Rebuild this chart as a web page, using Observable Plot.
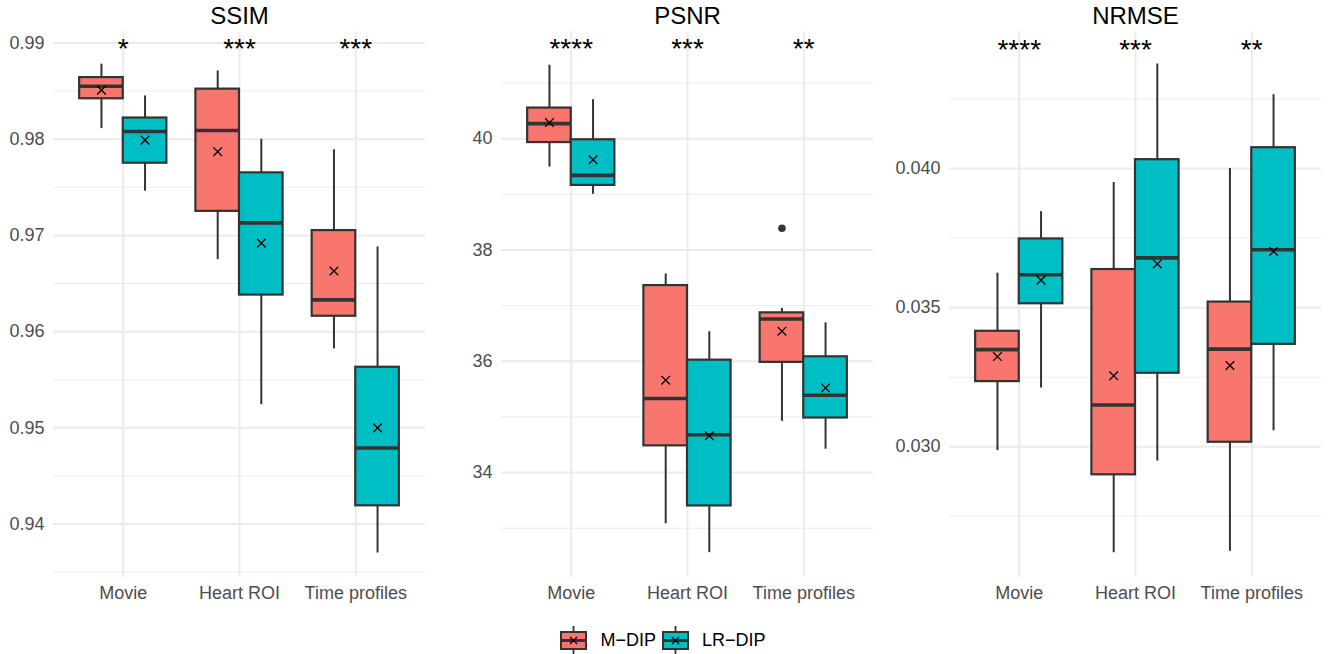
<!DOCTYPE html>
<html><head><meta charset="utf-8">
<script src="https://cdn.jsdelivr.net/npm/d3@7"></script>
<script src="https://cdn.jsdelivr.net/npm/@observablehq/plot@0.6"></script>
<style>
body{margin:0;background:#fff;font-family:"Liberation Sans",Arial,Helvetica,sans-serif;}
#wrap{position:relative;width:1332px;height:654px;overflow:hidden;}
.panel{position:absolute;top:0;}
#legend{position:absolute;left:0;top:626px;width:1332px;height:28px;display:flex;justify-content:center;align-items:center;font-size:18px;color:#000;}
.item{display:flex;align-items:center;margin:0 6px 0 0;}
.item svg{margin-right:13px;}
</style></head><body>
<div id="wrap"></div>
<script>
// ---------- data ----------
const categories = ["Movie", "Heart ROI", "Time profiles"];
const methods = ["M\u2212DIP", "LR\u2212DIP"];
const colors = ["#F8766D", "#00BFC4"];
const metrics = ["SSIM", "PSNR", "NRMSE"];

// order: Movie M, Movie LR, Heart M, Heart LR, Time M, Time LR
const ssimLow  = [0.9811, 0.9746, 0.9675, 0.9524, 0.9582, 0.9370];
const ssimQ1   = [0.9842, 0.9775, 0.9725, 0.9638, 0.9616, 0.9419];
const ssimMed  = [0.9855, 0.9808, 0.9809, 0.9713, 0.9633, 0.9479];
const ssimQ3   = [0.9864, 0.9822, 0.9852, 0.9765, 0.9705, 0.9563];
const ssimHigh = [0.9878, 0.9845, 0.9871, 0.9800, 0.9789, 0.9688];
const ssimMean = [0.9851, 0.9799, 0.9787, 0.9692, 0.9663, 0.9500];

const psnrLow  = [39.49, 39.00, 33.08, 32.56, 34.92, 34.42];
const psnrQ1   = [39.93, 39.16, 34.48, 33.40, 35.98, 34.98];
const psnrMed  = [40.27, 39.34, 35.33, 34.68, 36.76, 35.39];
const psnrQ3   = [40.55, 39.98, 37.36, 36.02, 36.87, 36.08];
const psnrHigh = [41.32, 40.70, 37.57, 36.53, 36.95, 36.69];
const psnrMean = [40.29, 39.62, 35.66, 34.66, 36.54, 35.52];

const nrmseLow  = [0.02986, 0.03211, 0.02619, 0.02949, 0.02624, 0.03057];
const nrmseQ1   = [0.03234, 0.03514, 0.02899, 0.03264, 0.03016, 0.03368];
const nrmseMed  = [0.03349, 0.03618, 0.03150, 0.03679, 0.03351, 0.03708];
const nrmseQ3   = [0.03415, 0.03747, 0.03637, 0.04032, 0.03520, 0.04075];
const nrmseHigh = [0.03624, 0.03845, 0.03950, 0.04376, 0.04000, 0.04265];
const nrmseMean = [0.03324, 0.03599, 0.03255, 0.03657, 0.03292, 0.03702];

// outliers
const psnrOutlierCat = ["Time profiles"];
const psnrOutlierMethod = ["M\u2212DIP"];
const psnrOutlierValue = [38.39];

// significance labels
const ssimSig  = ["*", "***", "***"];
const psnrSig  = ["****", "***", "**"];
const nrmseSig = ["****", "***", "**"];
const sigLabelY = [0.9886, 41.48, 0.04400];

// ticks
const ssimTicks = [0.94, 0.95, 0.96, 0.97, 0.98, 0.99];
const ssimMinor = [0.935, 0.945, 0.955, 0.965, 0.975, 0.985];
const psnrTicks = [34, 36, 38, 40];
const psnrMinor = [33, 35, 37, 39, 41];
const nrmseTicks = [0.030, 0.035, 0.040];
const nrmseMinor = [0.0275, 0.0325, 0.0375, 0.0425];

// ---------- layout ----------
const dodge = 0.1875;
const font = '"Liberation Sans", Arial, Helvetica, sans-serif';
const panels = [
  {title: metrics[0], low: ssimLow, q1: ssimQ1, med: ssimMed, q3: ssimQ3, high: ssimHigh, mean: ssimMean,
   sig: ssimSig, sigY: sigLabelY[0], ticks: ssimTicks, minor: ssimMinor, fmt: d3.format(".2f"),
   domain: [0.93445, 0.99119], left: 0, width: 440, ml: 53, mr: 15, out: []},
  {title: metrics[1], low: psnrLow, q1: psnrQ1, med: psnrMed, q3: psnrQ3, high: psnrHigh, mean: psnrMean,
   sig: psnrSig, sigY: sigLabelY[1], ticks: psnrTicks, minor: psnrMinor, fmt: d3.format("d"),
   domain: [32.114, 41.926], left: 444, width: 444, ml: 57, mr: 15,
   out: psnrOutlierValue.map((v, i) => ({cat: psnrOutlierCat[i], method: psnrOutlierMethod[i], v}))},
  {title: metrics[2], low: nrmseLow, q1: nrmseQ1, med: nrmseMed, q3: nrmseQ3, high: nrmseHigh, mean: nrmseMean,
   sig: nrmseSig, sigY: sigLabelY[2], ticks: nrmseTicks, minor: nrmseMinor, fmt: d3.format(".3f"),
   domain: [0.025298, 0.044928], left: 888, width: 444, ml: 61, mr: 11, out: []}
];

const posOf = (cat, method) => categories.indexOf(cat) + 1 + (methods.indexOf(method) === 0 ? -dodge : dodge);

const wrap = document.getElementById("wrap");
for (const p of panels) {
  const rows = [];
  categories.forEach((c, ci) => methods.forEach((m, mi) => {
    const k = ci * 2 + mi, pos = posOf(c, m);
    rows.push({cat: c, method: m, pos, x1: pos - dodge, x2: pos + dodge,
      low: p.low[k], q1: p.q1[k], med: p.med[k], q3: p.q3[k], high: p.high[k], mean: p.mean[k]});
  }));
  const outs = p.out.map(o => ({pos: posOf(o.cat, o.method), v: o.v}));
  const sig = categories.map((c, i) => ({x: i + 1, y: p.sigY, label: p.sig[i]}));
  const chart = Plot.plot({
    width: p.width, height: 612,
    marginLeft: p.ml, marginRight: p.mr, marginTop: 31, marginBottom: 35,
    x: {domain: [0.4, 3.6], axis: null},
    y: {domain: p.domain, axis: null},
    color: {domain: methods, range: colors},
    style: {fontFamily: font, fontSize: "18px", background: "transparent", overflow: "visible"},
    marks: [
      Plot.ruleY(p.minor, {stroke: "#ebebeb", strokeWidth: 1}),
      Plot.ruleY(p.ticks, {stroke: "#ebebeb", strokeWidth: 2}),
      Plot.ruleX([1, 2, 3], {stroke: "#ebebeb", strokeWidth: 2}),
      Plot.axisY(p.ticks, {tickSize: 0, tickPadding: 9, tickFormat: p.fmt, color: "#4d4d4d", label: null, fontSize: 18}),
      Plot.axisX([1, 2, 3], {tickSize: 0, tickPadding: 9, tickFormat: d => categories[d - 1], color: "#4d4d4d", label: null, fontSize: 18}),
      Plot.ruleX(rows, {x: "pos", y1: "low", y2: "high", stroke: "#333333", strokeWidth: 2}),
      Plot.rect(rows, {x1: "x1", x2: "x2", y1: "q1", y2: "q3", fill: "method", stroke: "#333333", strokeWidth: 2.2}),
      Plot.ruleY(rows, {x1: "x1", x2: "x2", y: "med", stroke: "#333333", strokeWidth: 3.6}),
      Plot.dot(rows, {x: "pos", y: "mean", symbol: "times", r: 4, stroke: "#000", strokeWidth: 1.3}),
      Plot.dot(outs, {x: "pos", y: "v", r: 3.8, fill: "#333333", stroke: null}),
      Plot.text(sig, {x: "x", y: "y", text: "label", fontSize: 28, lineAnchor: "middle", dy: -7, fill: "#000"}),
      Plot.text([p.title], {frameAnchor: "top", dy: -8, lineAnchor: "bottom", fontSize: 24, fill: "#000"})
    ]
  });
  chart.classList.add("panel");
  chart.style.left = p.left + "px";
  wrap.appendChild(chart);
}

// legend
const legend = document.createElement("div");
legend.id = "legend";
methods.forEach((m, i) => {
  const item = document.createElement("div");
  item.className = "item";
  item.innerHTML = `<svg width="27" height="28" viewBox="0 0 27 28">
    <line x1="13.5" x2="13.5" y1="0" y2="28" stroke="#333" stroke-width="1.8"/>
    <rect x="1" y="6" width="25" height="17" fill="${colors[i]}" stroke="#333" stroke-width="2"/>
    <line x1="1" x2="26" y1="14.5" y2="14.5" stroke="#333" stroke-width="3"/>
    <path d="M10,11 L17,18 M17,11 L10,18" stroke="#000" stroke-width="1.3"/>
  </svg><span>${m}</span>`;
  legend.appendChild(item);
});
wrap.appendChild(legend);
</script>
</body></html>
